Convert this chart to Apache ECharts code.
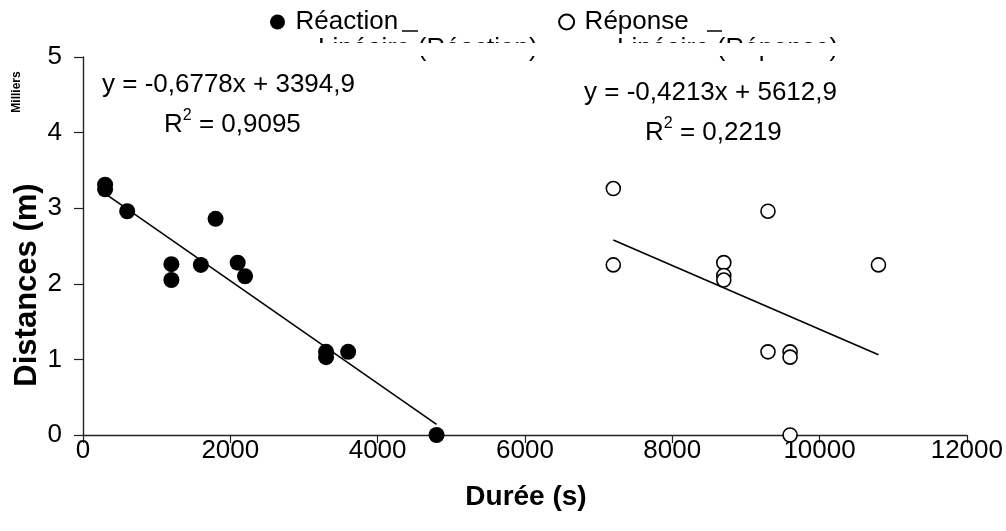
<!DOCTYPE html>
<html>
<head>
<meta charset="utf-8">
<script src="https://cdn.jsdelivr.net/npm/echarts@6/dist/echarts.min.js"></script>
<style>html,body{margin:0;padding:0;background:#fff;}#c{width:1006px;height:531px;}</style>
</head>
<body>
<div id="c"></div>
<script>
// Durée (s) and distances (milliers de m)
const reactionX = [300, 300, 600, 1200, 1200, 1600, 1800, 2100, 2200, 3300, 3300, 3600, 4800];
const reactionY = [3.31, 3.25, 2.96, 2.26, 2.05, 2.25, 2.86, 2.28, 2.10, 1.10, 1.03, 1.10, 0.0];
const reponseX = [7200, 7200, 8700, 8700, 8700, 9300, 9300, 9600, 9600, 9600, 10800];
const reponseY = [3.26, 2.25, 2.28, 2.11, 2.05, 2.96, 1.10, 1.10, 1.03, 0.0, 2.25];
const reactionFit = { slope: -0.6778, intercept: 3394.9, r2: '0,9095', eq: 'y = -0,6778x + 3394,9', xRange: [300, 4800] };
const reponseFit = { slope: -0.4213, intercept: 5612.9, r2: '0,2219', eq: 'y = -0,4213x + 5612,9', xRange: [7200, 10800] };
const xTicks = [0, 2000, 4000, 6000, 8000, 10000, 12000];
const yTicks = [0, 1, 2, 3, 4, 5];
const seriesNames = ['Réaction', 'Réponse'];
const fitNames = ['Linéaire (Réaction)', 'Linéaire (Réponse)'];

const font = '"Liberation Sans", Arial, sans-serif';
const pair = (xs, ys) => xs.map((x, i) => [x, ys[i]]);
const fitLine = f => f.xRange.map(x => [x, (f.slope * x + f.intercept) / 1000]);
const r2Rich = {
  n: { fontSize: 26, fontFamily: font, fill: '#000', verticalAlign: 'bottom', lineHeight: 30 },
  s: { fontSize: 16, fontFamily: font, fill: '#000', verticalAlign: 'top', lineHeight: 30 }
};

const chart = echarts.init(document.getElementById('c'));
chart.setOption({
  animation: false,
  backgroundColor: '#fff',
  textStyle: { fontFamily: font, color: '#000' },
  grid: { left: 83, right: 39, top: 57, bottom: 96 },
  legend: {
    top: 4, left: 265, itemGap: 160, itemWidth: 26, itemHeight: 15, symbolKeepAspect: true,
    textStyle: { fontSize: 26, color: '#000', fontFamily: font },
    data: [{ name: seriesNames[0] }, { name: seriesNames[1] }]
  },
  xAxis: {
    type: 'value', min: xTicks[0], max: xTicks[xTicks.length - 1], interval: 2000,
    axisLine: { lineStyle: { color: '#222', width: 1.4 } },
    axisTick: { inside: false, length: 8, lineStyle: { color: '#222', width: 1.2 } },
    axisLabel: { fontSize: 26, color: '#000', margin: 3, fontFamily: font, formatter: v => String(v) },
    splitLine: { show: false }
  },
  yAxis: {
    type: 'value', min: yTicks[0], max: yTicks[yTicks.length - 1], interval: 1,
    axisLine: { show: true, lineStyle: { color: '#222', width: 1.4 } },
    axisTick: { show: true, inside: false, length: 9, lineStyle: { color: '#222', width: 1.2 } },
    axisLabel: { fontSize: 26, color: '#000', margin: 21, fontFamily: font, formatter: v => String(v) },
    splitLine: { show: false }
  },
  graphic: [
    // clipped second legend row
    { type: 'text', left: 318, top: 36, z: 1, style: { text: fitNames[0], font: '26px ' + font, fill: '#000' } },
    { type: 'text', left: 617, top: 36, z: 1, style: { text: fitNames[1], font: '26px ' + font, fill: '#000' } },
    { type: 'rect', shape: { x: 290, y: 43, width: 600, height: 13 }, z: 2, style: { fill: '#fff' } },
    { type: 'line', shape: { x1: 402, y1: 31, x2: 418, y2: 31 }, z: 3, style: { stroke: '#000', lineWidth: 1.5 } },
    { type: 'line', shape: { x1: 707, y1: 31, x2: 722, y2: 31 }, z: 3, style: { stroke: '#000', lineWidth: 1.5 } },
    // axis titles
    { type: 'text', x: 27, y: 285, rotation: Math.PI / 2, z: 3,
      style: { text: 'Distances (m)', font: 'bold 31px ' + font, fill: '#000', textAlign: 'center', textVerticalAlign: 'middle' } },
    { type: 'text', x: 17, y: 92, rotation: Math.PI / 2, z: 3,
      style: { text: 'Milliers', font: 'bold 12px ' + font, fill: '#000', textAlign: 'center', textVerticalAlign: 'middle' } },
    { type: 'text', x: 526, y: 497, z: 3,
      style: { text: 'Durée (s)', font: 'bold 28px ' + font, fill: '#000', textAlign: 'center', textVerticalAlign: 'middle' } },
    // regression equations
    { type: 'text', left: 102, top: 72, z: 3, style: { text: reactionFit.eq, font: '26px ' + font, fill: '#000' } },
    { type: 'text', left: 164, top: 108, z: 3, style: { text: '{n|R}{s|2}{n| = ' + reactionFit.r2 + '}', rich: r2Rich } },
    { type: 'text', left: 584, top: 80, z: 3, style: { text: reponseFit.eq, font: '26px ' + font, fill: '#000' } },
    { type: 'text', left: 645, top: 116, z: 3, style: { text: '{n|R}{s|2}{n| = ' + reponseFit.r2 + '}', rich: r2Rich } }
  ],
  series: [
    { name: seriesNames[0], type: 'scatter', data: pair(reactionX, reactionY), symbol: 'circle', symbolSize: 16,
      itemStyle: { color: '#000', borderColor: '#000', borderWidth: 0, opacity: 1 }, z: 3 },
    { name: seriesNames[1], type: 'scatter', data: pair(reponseX, reponseY), symbol: 'circle', symbolSize: 14,
      itemStyle: { color: '#fff', borderColor: '#000', borderWidth: 1.6, opacity: 1 }, z: 3 },
    { name: fitNames[0], type: 'line', data: fitLine(reactionFit), symbol: 'none',
      lineStyle: { color: '#000', width: 1.6 }, z: 2 },
    { name: fitNames[1], type: 'line', data: fitLine(reponseFit), symbol: 'none',
      lineStyle: { color: '#000', width: 1.6 }, z: 2 }
  ]
});
</script>
</body>
</html>
